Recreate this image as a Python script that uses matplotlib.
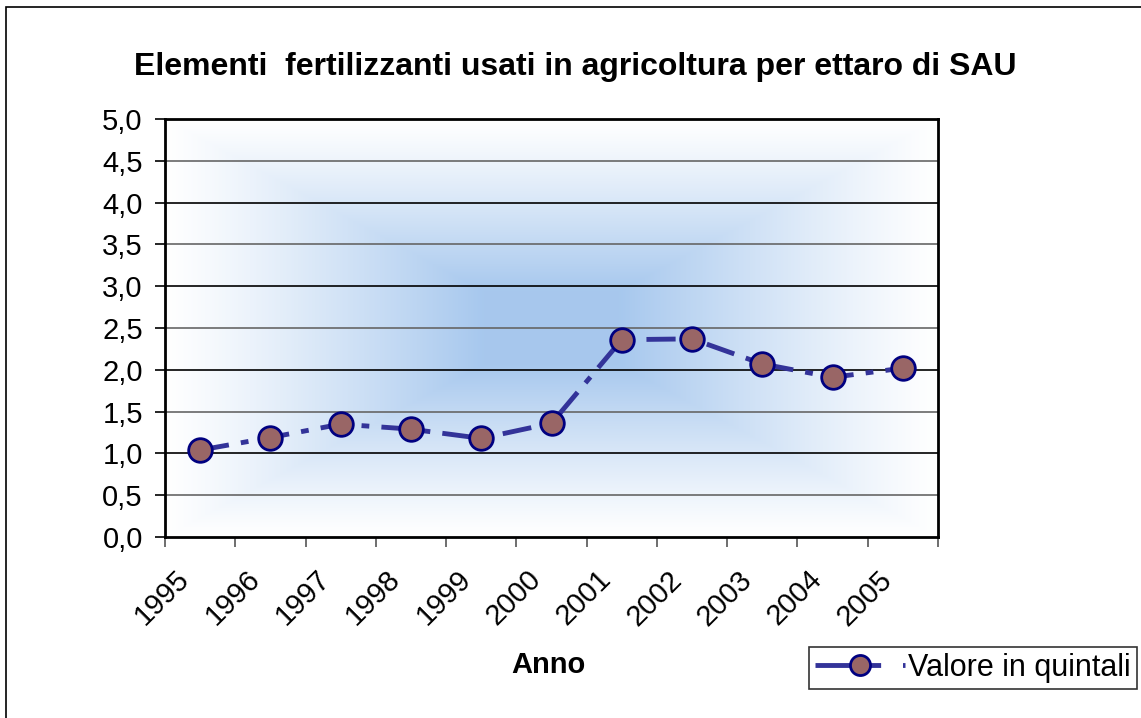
import matplotlib
matplotlib.use("Agg")
import matplotlib.pyplot as plt
import matplotlib.transforms as mtransforms
from matplotlib.lines import Line2D
from matplotlib.patches import Rectangle
from matplotlib.ticker import FuncFormatter
import numpy as np

matplotlib.rcParams['font.family'] = ['Liberation Sans', 'DejaVu Sans']

anni = ['1995', '1996', '1997', '1998', '1999', '2000',
        '2001', '2002', '2003', '2004', '2005']
valori = [1.04, 1.19, 1.35, 1.29, 1.18, 1.36, 2.36, 2.37, 2.07, 1.91, 2.02]

titolo = 'Elementi  fertilizzanti usati in agricoltura per ettaro di SAU'
serie = 'Valore in quintali'

fig = plt.figure(figsize=(11.41, 7.18), dpi=100)
ax = fig.add_axes([165 / 1141, 1 - 537 / 718, 773 / 1141, 418 / 718])

x = np.arange(len(anni))
xlo, xhi = -0.5, len(anni) - 0.5

# sfondo: gradiente dal centro
n = 400
u = np.linspace(-1, 1, n)
U, V = np.meshgrid(u, u)
t = 1 - np.maximum(np.abs(U), np.abs(V))
t = np.clip(1.25 * t ** 1.15, 0, 1)
blu = np.array([0.655, 0.784, 0.933])
img = 1 - (1 - blu)[None, None, :] * t[:, :, None]
ax.imshow(img, extent=[xlo, xhi, 0, 5], aspect='auto', zorder=0,
          interpolation='bilinear')

for g in np.arange(0.5, 5.0, 0.5):
    col = 'black' if g == int(g) else '#666666'
    ax.axhline(g, color=col, lw=1.2, zorder=1)

ax.plot(x, valori, color='#333399', lw=3.5, linestyle=(0, (6, 2.5, 1.6, 2.5)),
        marker='o', markersize=17, markerfacecolor='#996666',
        markeredgecolor='#000080', markeredgewidth=2, zorder=3)

ax.set_xlim(xlo, xhi)
ax.set_ylim(0, 5)
ax.set_yticks(np.arange(0, 5.01, 0.5))
ax.yaxis.set_major_formatter(FuncFormatter(lambda v, p: ('%.1f' % v).replace('.', ',')))
ax.tick_params(axis='y', labelsize=21, length=7, width=1.2, pad=9)

ax.set_xticks(x)
ax.set_xticklabels(anni, rotation=45, ha='right', va='top')
ax.set_xticks(np.arange(xlo, xhi + 0.01, 1), minor=True)
ax.tick_params(axis='x', which='major', labelsize=21, length=0, pad=21)
ax.tick_params(axis='x', which='minor', length=7, width=1.2, color='#555555')
shift = mtransforms.ScaledTranslation(-0.05, 0.01, fig.dpi_scale_trans)
for lab in ax.get_xticklabels():
    lab.set_transform(lab.get_transform() + shift)

for s in ax.spines.values():
    s.set_linewidth(2)
    s.set_color('black')

fig.text(575 / 1141, 1 - 67 / 718, titolo, fontsize=23, fontweight='bold',
         ha='center', va='center')
fig.text(548 / 1141, 1 - 665 / 718, 'Anno', fontsize=21, fontweight='bold',
         ha='center', va='center')

# bordo esterno del grafico
fig.patches.append(Rectangle((6 / 1141, -0.1), 1.2, 1.1 - 7 / 718,
                             transform=fig.transFigure, fill=False,
                             edgecolor='black', lw=1.2))

maniglia = Line2D([], [], color='#333399', lw=3.5, linestyle=(0, (13.5, 4.5, 0.6, 10)),
                  marker='o', markersize=17, markerfacecolor='#996666',
                  markeredgecolor='#000080', markeredgewidth=2)
leg = fig.legend([maniglia], [serie], loc='upper left',
                 bbox_to_anchor=(809 / 1141, 1 - 647 / 718), fontsize=22,
                 frameon=True, fancybox=False, handlelength=2.95,
                 handletextpad=0.1, borderpad=0.2, borderaxespad=0,
                 markerscale=0.85)
leg.get_frame().set_edgecolor('black')
leg.get_frame().set_linewidth(1.2)

fig.savefig('out.png', dpi=100)
